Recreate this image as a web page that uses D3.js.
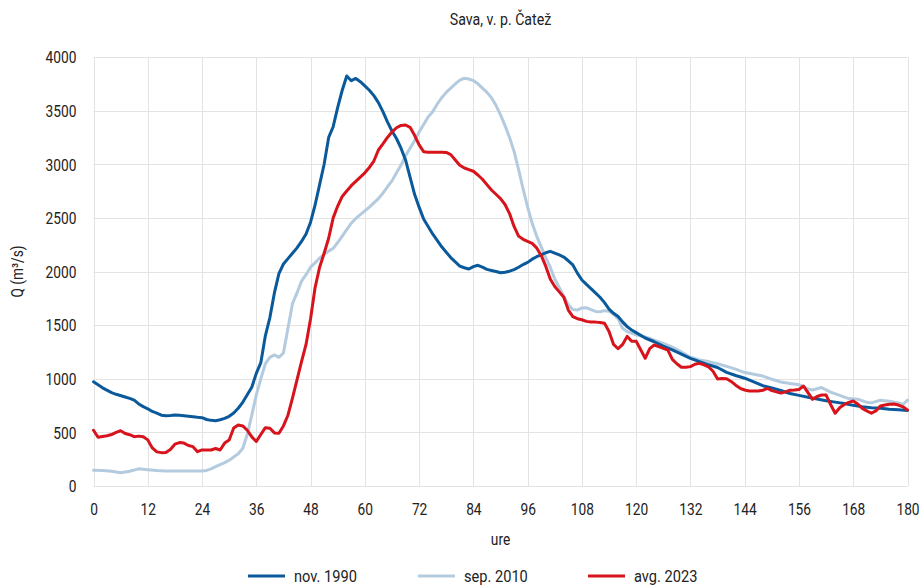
<!DOCTYPE html>
<html>
<head>
<meta charset="utf-8">
<script src="https://cdn.jsdelivr.net/npm/d3@7"></script>
<style>
  html, body { margin: 0; padding: 0; background: #fff; }
  svg { display: block; }
  text { font-family: Roboto, "Noto Sans", sans-serif; fill: #222; }
</style>
</head>
<body>
<svg id="chart" width="919" height="585"></svg>
<script>
// Hourly discharge of the Sava at the Čatež gauging station, three flood events
const title = "Sava, v. p. Čatež";
const xTitle = "ure";
const yTitle = "Q (m³/s)";
const xTicks = [0, 12, 24, 36, 48, 60, 72, 84, 96, 108, 120, 132, 144, 156, 168, 180];
const yTicks = [0, 500, 1000, 1500, 2000, 2500, 3000, 3500, 4000];
const seriesNames = ["nov. 1990", "sep. 2010", "avg. 2023"];
const seriesColors = ["#0a5a9b", "#b4cbdf", "#d7141c"];

// [hour, Q]
const nov1990 = [[0,972],[2,915],[4,870],[5,855],[7,830],[8,817],[9,800],[10,765],[11,740],[12,720],[13,695],[14,680],[15,660],[16,655],[17,658],[18,662],[19,660],[20,655],[21,650],[22,645],[23,640],[24,637],[25,620],[26,612],[27,609],[28,618],[29,631],[30,650],[31,680],[32,725],[33,780],[34,850],[35,920],[36,1050],[37,1150],[38,1400],[39,1570],[40,1800],[41,1980],[42,2070],[43,2120],[44,2170],[45,2220],[46,2280],[47,2350],[48,2460],[49,2620],[50,2810],[51,3000],[52,3250],[53,3350],[54,3530],[55,3690],[56,3823],[57,3779],[58,3800],[59,3770],[60,3730],[61,3690],[62,3640],[63,3575],[64,3490],[65,3395],[66,3310],[67,3240],[68,3150],[69,3040],[70,2880],[71,2720],[72,2600],[73,2490],[74,2420],[75,2350],[76,2290],[77,2230],[78,2180],[79,2130],[80,2090],[81,2051],[82,2035],[83,2023],[84,2045],[85,2058],[86,2040],[87,2020],[88,2010],[89,2000],[90,1988],[91,1993],[92,2003],[93,2018],[94,2040],[95,2065],[96,2085],[97,2115],[98,2138],[99,2155],[100,2175],[101,2188],[102,2172],[103,2154],[104,2135],[105,2100],[106,2061],[107,1985],[108,1921],[109,1880],[110,1840],[111,1800],[112,1760],[113,1710],[114,1650],[115,1610],[116,1580],[117,1530],[118,1486],[119,1455],[120,1430],[122,1380],[124,1345],[126,1305],[128,1270],[130,1230],[132,1190],[134,1160],[136,1130],[138,1105],[140,1060],[142,1030],[144,1005],[146,970],[148,935],[150,915],[152,890],[154,862],[156,845],[158,828],[160,812],[162,795],[164,782],[166,770],[168,752],[170,738],[172,730],[174,724],[176,716],[178,710],[180,704]];

const sep2010 = [[0,148],[2,145],[4,138],[6,124],[8,138],[10,160],[12,152],[14,145],[16,140],[20,140],[24,140],[25,145],[26,160],[27,180],[28,200],[29,218],[30,240],[31,270],[32,300],[33,350],[34,480],[35,660],[36,850],[37,1000],[38,1140],[39,1200],[40,1222],[41,1200],[42,1240],[43,1470],[44,1700],[45,1800],[46,1910],[47,1970],[48,2040],[49,2080],[50,2125],[51,2160],[52,2190],[53,2216],[54,2270],[55,2330],[56,2390],[57,2450],[58,2495],[59,2530],[60,2565],[61,2600],[62,2640],[63,2680],[64,2730],[65,2790],[66,2845],[67,2920],[68,2990],[69,3080],[70,3150],[71,3220],[72,3300],[73,3370],[74,3440],[75,3490],[76,3560],[77,3620],[78,3670],[79,3710],[80,3750],[81,3785],[82,3802],[83,3795],[84,3780],[85,3750],[86,3710],[87,3670],[88,3620],[89,3550],[90,3460],[91,3360],[92,3250],[93,3120],[94,2950],[95,2770],[96,2600],[97,2450],[98,2330],[99,2230],[100,2130],[101,2040],[102,1930],[103,1850],[104,1770],[105,1690],[106,1645],[107,1640],[108,1660],[109,1662],[110,1645],[111,1628],[112,1625],[113,1635],[114,1630],[115,1600],[116,1560],[117,1470],[118,1440],[120,1410],[122,1390],[124,1360],[126,1330],[128,1295],[130,1250],[132,1200],[134,1175],[136,1160],[138,1140],[140,1115],[142,1090],[144,1058],[146,1042],[148,1025],[150,995],[152,970],[154,955],[156,945],[158,905],[159,895],[161,918],[163,875],[165,845],[167,815],[169,810],[171,780],[172,775],[174,800],[176,790],[178,775],[179,760],[180,800]];

const avg2023 = [[0,520],[1,455],[2,462],[3,468],[4,480],[5,500],[6,515],[7,490],[8,478],[9,460],[10,465],[11,460],[12,430],[13,355],[14,318],[15,311],[16,313],[17,340],[18,390],[19,405],[20,400],[21,378],[22,367],[23,320],[24,336],[25,336],[26,336],[27,350],[28,336],[29,400],[30,429],[31,540],[32,569],[33,560],[34,520],[35,458],[36,415],[37,480],[38,544],[39,538],[40,495],[41,491],[42,560],[43,660],[44,820],[45,990],[46,1160],[47,1320],[48,1560],[49,1850],[50,2040],[51,2170],[52,2310],[53,2500],[54,2610],[55,2700],[56,2750],[57,2800],[58,2840],[59,2880],[60,2920],[61,2970],[62,3030],[63,3133],[64,3190],[65,3250],[66,3300],[67,3340],[68,3362],[69,3366],[70,3344],[71,3270],[72,3180],[73,3117],[74,3111],[75,3111],[76,3111],[77,3111],[78,3110],[79,3090],[80,3040],[81,2990],[82,2965],[83,2950],[84,2935],[85,2900],[86,2860],[87,2810],[88,2760],[89,2720],[90,2680],[91,2625],[92,2540],[93,2420],[94,2330],[95,2300],[96,2280],[97,2262],[98,2220],[99,2150],[100,2050],[101,1930],[102,1860],[103,1810],[104,1760],[105,1640],[106,1580],[107,1560],[108,1550],[109,1535],[110,1530],[111,1528],[112,1525],[113,1517],[114,1440],[115,1320],[116,1280],[117,1320],[118,1395],[119,1350],[120,1350],[121,1270],[122,1191],[123,1280],[124,1315],[125,1300],[126,1284],[127,1268],[128,1180],[129,1140],[130,1107],[131,1108],[132,1113],[133,1135],[134,1144],[135,1130],[136,1110],[137,1070],[138,998],[139,1002],[140,1000],[141,975],[142,940],[143,911],[144,895],[145,886],[146,886],[147,886],[148,892],[149,911],[150,889],[151,878],[152,866],[153,878],[154,893],[155,895],[156,900],[157,932],[158,870],[159,808],[160,835],[161,848],[162,848],[163,760],[164,678],[165,730],[166,760],[167,780],[168,793],[169,765],[170,724],[171,700],[172,678],[173,700],[174,746],[175,755],[176,762],[177,765],[178,755],[179,738],[180,709]];

const seriesData = [nov1990, sep2010, avg2023];

const svg = d3.select("#chart");
const W = 919, H = 585;
const margin = { left: 93.5, right: 11.5, top: 57, bottom: 99 };
const FS = 16, SX = 0.86;   // condensed look: horizontal squeeze of the glyphs

const x = d3.scaleLinear().domain([0, 180]).range([margin.left, W - margin.right]);
const y = d3.scaleLinear().domain([0, 4000]).range([H - margin.bottom, margin.top]);

function label(px, py, str, anchor, size) {
  return svg.append("text")
    .attr("transform", `translate(${px},${py}) scale(${SX},1)`)
    .attr("text-anchor", anchor || "middle")
    .style("font-size", (size || FS) + "px")
    .text(str);
}

// grid
const grid = svg.append("g").attr("stroke", "#e3e3e3").attr("stroke-width", 1);
grid.selectAll("line.h").data(yTicks).join("line")
  .attr("x1", x(0)).attr("x2", x(180))
  .attr("y1", d => Math.round(y(d)) + 0.5).attr("y2", d => Math.round(y(d)) + 0.5);
grid.selectAll("line.v").data(xTicks).join("line")
  .attr("y1", y(0)).attr("y2", y(4000))
  .attr("x1", d => Math.round(x(d)) + 0.5).attr("x2", d => Math.round(x(d)) + 0.5);

// axes (labels only, lines come from the grid)
const xAxis = svg.append("g")
  .attr("transform", `translate(0,${y(0)})`)
  .call(d3.axisBottom(x).tickValues(xTicks).tickSize(0).tickPadding(0));
xAxis.select(".domain").remove();
xAxis.selectAll("text")
  .attr("y", 29).attr("dy", 0)
  .attr("transform", `scale(${SX},1)`)
  .style("font-size", FS + "px").style("font-family", "Roboto").attr("fill", "#222");

const yAxis = svg.append("g")
  .attr("transform", `translate(${x(0)},0)`)
  .call(d3.axisLeft(y).tickValues(yTicks).tickSize(0).tickPadding(0).tickFormat(d3.format("d")));
yAxis.select(".domain").remove();
yAxis.selectAll("text")
  .attr("x", -17 / SX).attr("dy", "0.36em")
  .attr("transform", `scale(${SX},1)`)
  .style("font-size", FS + "px").style("font-family", "Roboto").attr("fill", "#222");

// series lines: 2010 underneath, then 1990, then 2023
const line = d3.line().x(d => x(d[0])).y(d => y(d[1]));
[1, 0, 2].forEach(i => {
  svg.append("path")
    .datum(seriesData[i])
    .attr("fill", "none")
    .attr("stroke", seriesColors[i])
    .attr("stroke-width", 3)
    .attr("stroke-linejoin", "round")
    .attr("stroke-linecap", "round")
    .attr("d", line);
});

// titles
label((x(0) + x(180)) / 2, 25, title, "middle", 16.5);
label((x(0) + x(180)) / 2, 545, xTitle, "middle");
svg.append("text")
  .attr("transform", `translate(23,${(y(0) + y(4000)) / 2}) rotate(-90) scale(${SX},1)`)
  .attr("text-anchor", "middle")
  .style("font-size", FS + "px")
  .text(yTitle);

// legend
const legendX = [248, 418, 588];
seriesNames.forEach((name, i) => {
  svg.append("line")
    .attr("x1", legendX[i]).attr("x2", legendX[i] + 37)
    .attr("y1", 576).attr("y2", 576)
    .attr("stroke", seriesColors[i]).attr("stroke-width", 3);
  label(legendX[i] + 46, 582, name, "start", 17);
});
</script>
</body>
</html>
